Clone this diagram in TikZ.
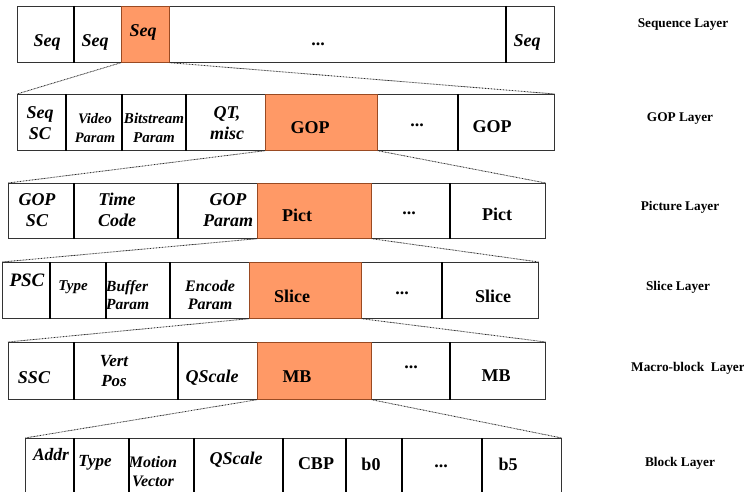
\documentclass[tikz,border=0pt]{standalone}
\usepackage{fontspec}
\setmainfont{Liberation Serif}
\definecolor{hotfill}{HTML}{FF9966}
\definecolor{hotedge}{HTML}{9A4A22}
% \cell{style}{name}{x left}{x right}{y top}{y bottom}
\newcommand\cell[6]{\node[#1, minimum width={#4-#3}, minimum height={#6-#5}] (#2) at (#3,#5) {};}
\begin{document}
\begin{tikzpicture}[x=1pt,y=-1pt,
  cellbox/.style={draw=black!80, line width=0.7pt, inner sep=0pt, anchor=north west, fill=white},
  hot/.style={cellbox, fill=hotfill, draw=hotedge},
  divider/.style={line width=1.9pt, black},
  zoomline/.style={draw=black!85, line width=0.8pt, dash pattern=on 0.8pt off 0.7pt},
  it/.style={font=\fontsize{18}{21}\selectfont\bfseries\itshape, align=center, inner sep=0pt},
  itsm/.style={font=\fontsize{15.5}{18.5}\selectfont\bfseries\itshape, align=center, inner sep=0pt},
  up/.style={font=\fontsize{18}{21}\selectfont\bfseries, inner sep=0pt},
  layer/.style={font=\fontsize{13.3}{16}\selectfont\bfseries, inner sep=0pt}]
\useasboundingbox (0,0) rectangle (744,492);
\clip (0,0) rectangle (744,492);
\fill[white] (0,0) rectangle (744,492);

% Sequence layer
\cell{cellbox}{s1}{17}{73}{6}{62}
\cell{cellbox}{s2}{73}{121}{6}{62}
\cell{cellbox}{s4}{169}{505}{6}{62}
\cell{cellbox}{s5}{505}{554}{6}{62}
\cell{hot}{s3}{121}{169}{6}{62}
\draw[divider] (s1.north east) -- (s1.south east);
\draw[divider] (s4.north east) -- (s4.south east);
\node[it] (ts1) at (47,42) {Seq};
\node[it] (ts2) at (95,42) {Seq};
\node[it] (ts3) at (143,32) {Seq};
\node[up] (ts4) at (318,44) {...};
\node[it] (ts5) at (527,42) {Seq};

% GOP layer
\cell{cellbox}{g1}{17}{65}{94}{150}
\cell{cellbox}{g2}{65}{121}{94}{150}
\cell{cellbox}{g3}{121}{185}{94}{150}
\cell{cellbox}{g4}{185}{265}{94}{150}
\cell{cellbox}{g6}{377}{457}{94}{150}
\cell{cellbox}{g7}{457}{554}{94}{150}
\cell{hot}{g5}{265}{377}{94}{150}
\foreach \c in {g1,g2,g3,g6}
  \draw[divider] (\c.north east) -- (\c.south east);
\node[itsm, font=\fontsize{18}{21}\selectfont\bfseries\itshape] (tg1) at (40,123) {Seq\\SC};
\node[itsm, font=\fontsize{14.5}{19.5}\selectfont\bfseries\itshape] (tg2) at (95,128) {Video\\Param};
\node[itsm, font=\fontsize{15}{19.5}\selectfont\bfseries\itshape] (tg3) at (154,128) {Bitstream\\Param};
\node[it] (tg4) at (227,123) {QT,\\misc};
\node[up] (tg5) at (310,128) {GOP};
\node[up] (tg6) at (417,125) {...};
\node[up] (tg7) at (492,127) {GOP};

% Picture layer
\cell{cellbox}{p1}{8}{73}{183}{238}
\cell{cellbox}{p2}{73}{177}{183}{238}
\cell{cellbox}{p3}{177}{257}{183}{238}
\cell{cellbox}{p5}{371}{449}{183}{238}
\cell{cellbox}{p6}{449}{545}{183}{238}
\cell{hot}{p4}{257}{371}{183}{238}
\foreach \c in {p1,p2,p5}
  \draw[divider] (\c.north east) -- (\c.south east);
\node[it] (tp1) at (37,210) {GOP\\SC};
\node[it] (tp2) at (117,210) {Time\\Code};
\node[it] (tp3) at (228,210) {GOP\\Param};
\node[up] (tp4) at (297,215) {Pict};
\node[up] (tp5) at (409,213) {...};
\node[up] (tp6) at (497,214) {Pict};

% Slice layer
\cell{cellbox}{l1}{2}{49}{262}{318}
\cell{cellbox}{l2}{49}{105}{262}{318}
\cell{cellbox}{l3}{105}{169}{262}{318}
\cell{cellbox}{l4}{169}{249}{262}{318}
\cell{cellbox}{l6}{361}{441}{262}{318}
\cell{cellbox}{l7}{441}{538}{262}{318}
\cell{hot}{l5}{249}{361}{262}{318}
\foreach \c in {l1,l2,l3,l6}
  \draw[divider] (\c.north east) -- (\c.south east);
\node[it, font=\fontsize{19}{21}\selectfont\bfseries\itshape] (tl1) at (27,280) {PSC};
\node[itsm, font=\fontsize{15}{18}\selectfont\bfseries\itshape] (tl2) at (73,287) {Type};
\node[itsm, align=left, anchor=west, font=\fontsize{15.5}{18}\selectfont\bfseries\itshape] (tl3) at (106,295) {Buffer\\Param};
\node[itsm, font=\fontsize{16}{18}\selectfont\bfseries\itshape] (tl4) at (210,295) {Encode\\Param};
\node[up] (tl5) at (292,296) {Slice};
\node[up] (tl6) at (402,293) {...};
\node[up] (tl7) at (493,296) {Slice};

% Macro-block layer
\cell{cellbox}{m1}{8}{73}{342}{399}
\cell{cellbox}{m2}{73}{177}{342}{399}
\cell{cellbox}{m3}{177}{257}{342}{399}
\cell{cellbox}{m5}{371}{449}{342}{399}
\cell{cellbox}{m6}{449}{545}{342}{399}
\cell{hot}{m4}{257}{371}{342}{399}
\foreach \c in {m1,m2,m5}
  \draw[divider] (\c.north east) -- (\c.south east);
\node[it] (tm1) at (34,378) {SSC};
\node[it, font=\fontsize{17}{20}\selectfont\bfseries\itshape] (tm2) at (114,371) {Vert\\Pos};
\node[it] (tm3) at (212,378) {QScale};
\node[up] (tm4) at (297,377) {MB};
\node[up] (tm5) at (411,367) {...};
\node[up] (tm6) at (496,376) {MB};

% Block layer
\cell{cellbox}{b1}{25}{73}{438}{500}
\cell{cellbox}{b2}{73}{128}{438}{500}
\cell{cellbox}{b3}{128}{193}{438}{500}
\cell{cellbox}{b4}{193}{282}{438}{500}
\cell{cellbox}{b5}{282}{345}{438}{500}
\cell{cellbox}{b6}{345}{401}{438}{500}
\cell{cellbox}{b7}{401}{481}{438}{500}
\cell{cellbox}{b8}{481}{561}{438}{500}
\foreach \c in {b1,b2,b3,b4,b5,b6,b7}
  \draw[divider] (\c.north east) -- (\c.south east);
\node[it, font=\fontsize{17.5}{21}\selectfont\bfseries\itshape] (tb1) at (51,455) {Addr};
\node[it, font=\fontsize{17}{21}\selectfont\bfseries\itshape] (tb2) at (95,463) {Type};
\node[itsm, font=\fontsize{16}{19}\selectfont\bfseries\itshape] (tb3) at (153,472) {Motion\\Vector};
\node[it] (tb4) at (236,460) {QScale};
\node[up] (tb5) at (316,464) {CBP};
\node[up] (tb6) at (371,464) {b0};
\node[up] (tb7) at (441,466) {...};
\node[up] (tb8) at (508,464) {b5};

% zoom-in guides between layers
\draw[zoomline] (s3.south west) -- (g1.north west);
\draw[zoomline] (s3.south east) -- (g7.north east);
\draw[zoomline] (g5.south west) -- (p1.north west);
\draw[zoomline] (g5.south east) -- (p6.north east);
\draw[zoomline] (p4.south west) -- (l1.north west);
\draw[zoomline] (p4.south east) -- (l7.north east);
\draw[zoomline] (l5.south west) -- (m1.north west);
\draw[zoomline] (l5.south east) -- (m6.north east);
\draw[zoomline] (m4.south west) -- (b1.north west);
\draw[zoomline] (m4.south east) -- (b8.north east);

% layer names
\node[layer] (n1) at (683,25) {Sequence Layer};
\node[layer] (n2) at (680,119) {GOP Layer};
\node[layer] (n3) at (680,207) {Picture Layer};
\node[layer] (n4) at (678,287) {Slice Layer};
\node[layer] (n5) at (688,368) {Macro-block\ \ Layer};
\node[layer] (n6) at (680,463) {Block Layer};
\end{tikzpicture}
\end{document}
